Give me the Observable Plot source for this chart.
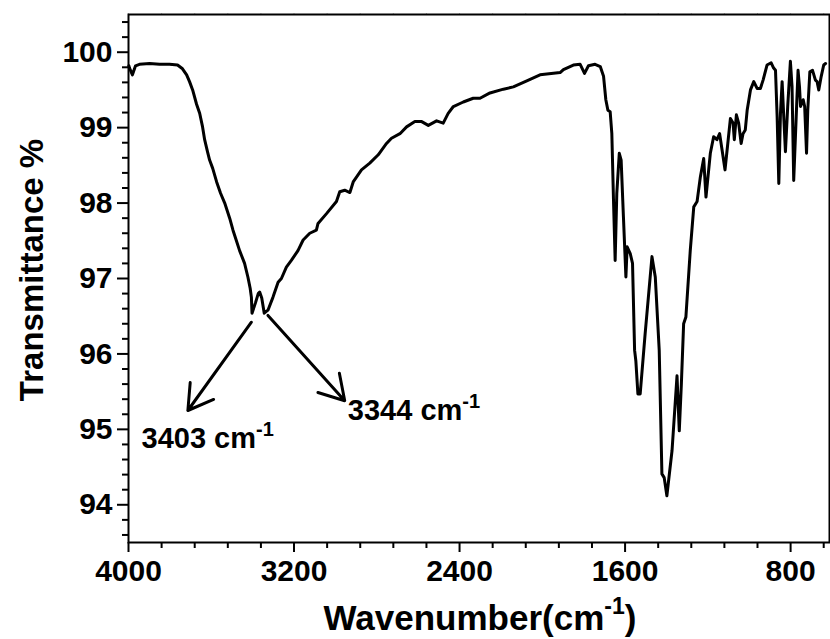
<!DOCTYPE html>
<html>
<head>
<meta charset="utf-8">
<script src="https://cdn.jsdelivr.net/npm/d3@7"></script>
<script src="https://cdn.jsdelivr.net/npm/@observablehq/plot@0.6"></script>
<style>
  html, body { margin: 0; padding: 0; background: #fff; }
  #chart { width: 830px; height: 639px; }
</style>
</head>
<body>
<div id="chart"></div>
<script>
// FTIR spectrum: wavenumber (cm^-1) and transmittance (%)
const wavenumber = [
  3998, 3995, 3981, 3966, 3947, 3898, 3850, 3802, 3763, 3739, 3719, 3705, 3690, 3671, 3656, 3642,
  3632, 3618, 3608, 3593, 3574, 3555, 3535, 3511, 3495, 3482, 3463, 3439, 3423, 3412, 3406, 3403,
  3386, 3373, 3366, 3356, 3344, 3326, 3302, 3277, 3261, 3237, 3213, 3181, 3156, 3124, 3092, 3084,
  3043, 2995, 2979, 2955, 2930, 2914, 2874, 2834, 2793, 2753, 2729, 2688, 2656, 2616, 2583, 2551,
  2511, 2479, 2455, 2430, 2382, 2334, 2301, 2253, 2188, 2140, 2075, 2011, 1946, 1914, 1898, 1850,
  1817, 1796, 1777, 1745, 1720, 1704, 1693, 1683, 1672, 1664, 1656, 1648, 1640, 1628, 1619, 1608,
  1596, 1590, 1575, 1564, 1554, 1548, 1538, 1527, 1503, 1470, 1454, 1435, 1422, 1411, 1398, 1373,
  1349, 1338, 1328, 1317, 1306, 1285, 1268, 1252, 1236, 1220, 1209, 1188, 1172, 1156, 1143, 1131,
  1117, 1107, 1091, 1078, 1072, 1062, 1051, 1039, 1030, 1019, 1010, 994, 978, 962, 946, 933,
  914, 894, 882, 873, 865, 857, 849, 841, 833, 825, 814, 801, 793, 785, 773, 764,
  757, 752, 739, 732, 723, 717, 707, 694, 680, 672, 664, 652, 640, 631
];
const transmittance = [
  99.82, 99.79, 99.70, 99.82, 99.84, 99.85, 99.84, 99.84, 99.83, 99.78, 99.70, 99.61, 99.50, 99.31, 99.19, 99.01,
  98.84, 98.68, 98.57, 98.46, 98.28, 98.13, 98.00, 97.80, 97.64, 97.53, 97.37, 97.20, 97.02, 96.87, 96.75, 96.54,
  96.68, 96.80, 96.82, 96.74, 96.54, 96.58, 96.75, 96.95, 97.00, 97.15, 97.24, 97.37, 97.51, 97.60, 97.64, 97.73,
  97.86, 98.02, 98.15, 98.17, 98.14, 98.28, 98.44, 98.53, 98.64, 98.79, 98.86, 98.92, 99.01, 99.08, 99.08, 99.03,
  99.09, 99.06, 99.19, 99.28, 99.34, 99.39, 99.39, 99.46, 99.51, 99.54, 99.62, 99.70, 99.72, 99.73, 99.77, 99.83,
  99.84, 99.72, 99.82, 99.84, 99.81, 99.68, 99.37, 99.23, 99.21, 98.92, 98.04, 97.24, 98.13, 98.66, 98.57, 97.82,
  97.02, 97.42, 97.33, 97.20, 96.05, 95.91, 95.47, 95.47, 96.27, 97.29, 97.02, 96.05, 94.41, 94.36, 94.12, 94.72,
  95.71, 94.98, 95.60, 96.40, 96.49, 97.37, 97.95, 98.02, 98.35, 98.59, 98.08, 98.66, 98.88, 98.84, 98.92, 98.70,
  98.44, 98.70, 99.12, 99.06, 98.84, 99.17, 99.06, 98.79, 98.92, 98.97, 99.23, 99.50, 99.61, 99.52, 99.52, 99.63,
  99.83, 99.86, 99.79, 99.76, 99.14, 98.26, 99.19, 99.61, 99.14, 98.68, 99.28, 99.88, 99.54, 98.30, 99.14, 99.76,
  99.54, 99.28, 99.37, 99.28, 98.66, 99.23, 99.74, 99.76, 99.63, 99.61, 99.50, 99.68, 99.83, 99.85
];

// Axis ticks
const xMajorTicks = [4000, 3200, 2400, 1600, 800];
const xMinorTicks = [3840, 3680, 3520, 3360, 3040, 2880, 2720, 2560, 2240, 2080, 1920, 1760, 1440, 1280, 1120, 960, 640];
const yMajorTicks = [94, 95, 96, 97, 98, 99, 100];
const yMinorTicks = [93.6, 93.8, 94.2, 94.4, 94.6, 94.8, 95.2, 95.4, 95.6, 95.8, 96.2, 96.4, 96.6, 96.8,
  97.2, 97.4, 97.6, 97.8, 98.2, 98.4, 98.6, 98.8, 99.2, 99.4, 99.6, 99.8, 100.2, 100.4];

// Annotated O–H / N–H bands
const peakLabels = ["3403", "3344"];
const arrowFromX = [3406, 3326];
const arrowFromY = [96.42, 96.51];
const arrowToX = [3713, 2955];
const arrowToY = [95.25, 95.38];
const labelX = [3937, 2940];
const labelY = [94.75, 95.12];

const spectrum = wavenumber.map((w, i) => ({w, t: transmittance[i]}));
const peaks = peakLabels.map((p, i) => ({
  label: p + " cm", x1: arrowFromX[i], y1: arrowFromY[i], x2: arrowToX[i], y2: arrowToY[i],
  lx: labelX[i], ly: labelY[i]
}));

const font = "'Liberation Sans', Arial, Helvetica, sans-serif";

const plot = Plot.plot({
  width: 830,
  height: 639,
  marginLeft: 128,
  marginRight: 1,
  marginTop: 14,
  marginBottom: 97,
  style: {fontFamily: font, fontWeight: "bold", background: "#fff", color: "#000"},
  x: {domain: [4000, 612], label: null},
  y: {domain: [93.5, 100.5], label: null},
  marks: [
    Plot.axisX({ticks: xMajorTicks, tickSize: 10, tickPadding: 7, fontSize: 30, strokeWidth: 2, tickFormat: d => String(d), label: null}),
    Plot.axisX({ticks: xMinorTicks, tickSize: 6, strokeWidth: 2, tickFormat: () => "", label: null}),
    Plot.axisX({anchor: "top", ticks: xMajorTicks.concat(xMinorTicks), tickSize: 2, stroke: "#bbb", tickFormat: () => "", label: null}),
    Plot.axisY({ticks: yMajorTicks, tickSize: 11, tickPadding: 5, fontSize: 30, strokeWidth: 2, tickFormat: d => String(d), label: null}),
    Plot.axisY({ticks: yMinorTicks, tickSize: 6, strokeWidth: 2, tickFormat: () => "", label: null}),
    Plot.frame({stroke: "#000", strokeWidth: 2}),
    Plot.line(spectrum, {x: "w", y: "t", stroke: "#000", strokeWidth: 3, strokeLinejoin: "round"}),
    Plot.arrow(peaks, {x1: "x1", y1: "y1", x2: "x2", y2: "y2", stroke: "#000", strokeWidth: 3, headLength: 14, headAngle: 62}),
    Plot.text(peaks, {x: "lx", y: "ly", text: "label", textAnchor: "start", lineAnchor: "bottom", fontSize: 29, fontWeight: "bold", fill: "#000", className: "peak-label"})
  ]
});

const svg = d3.select(plot);

// superscript -1 on the peak labels
svg.selectAll(".peak-label text").each(function () {
  d3.select(this).append("tspan").attr("dy", -12).attr("font-size", 20).text("-1");
});

// axis titles
svg.append("text")
  .attr("x", 480).attr("y", 630)
  .attr("text-anchor", "middle")
  .attr("font-family", font).attr("font-weight", "bold").attr("font-size", 35)
  .attr("fill", "#000")
  .call(t => {
    t.append("tspan").text("Wavenumber(cm");
    t.append("tspan").attr("dy", -16).attr("font-size", 23).text("-1");
    t.append("tspan").attr("dy", 16).text(")");
  });

svg.append("text")
  .attr("transform", "translate(43,270) rotate(-90)")
  .attr("text-anchor", "middle")
  .attr("font-family", font).attr("font-weight", "bold").attr("font-size", 33)
  .attr("fill", "#000")
  .text("Transmittance %");

document.getElementById("chart").appendChild(plot);
</script>
</body>
</html>
